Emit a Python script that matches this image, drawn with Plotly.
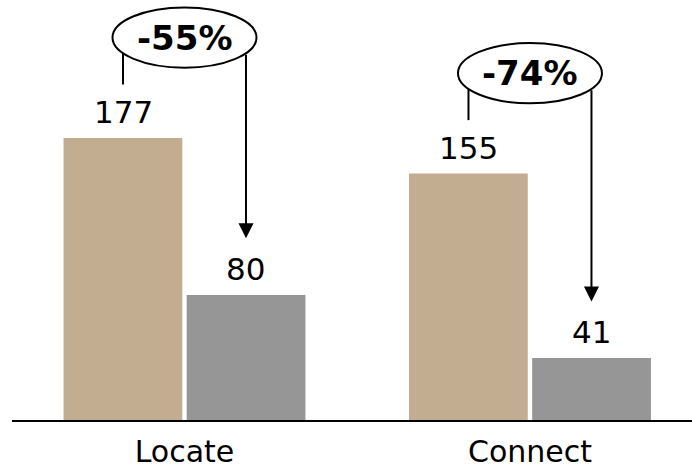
import plotly.graph_objects as go

# Data
categories = ["Locate", "Connect"]
before = [177, 155]
after = [80, 41]

tan = "#C3AD91"
grey = "#969696"
font_family = "DejaVu Sans"

fig = go.Figure()
fig.add_trace(go.Bar(x=categories, y=before, marker=dict(color=tan, line=dict(width=0)),
                     showlegend=False))
fig.add_trace(go.Bar(x=categories, y=after, marker=dict(color=grey, line=dict(width=0)),
                     showlegend=False))

# Change callouts: ellipse badge with bracket arrow from first to second bar
rx, ry = 0.2084, 18.6      # ellipse half-width (category units) / half-height (value units)
dx = 0.178                 # offset of each bar centre from its group centre
badge_lift = 62            # badge centre above the first bar
stem_lift = 33             # start of the left stem above the first bar
tip_lift = 35              # arrow tip above the second bar
dy = ry * (1 - (dx / rx) ** 2) ** 0.5

label_font = dict(size=31, color="black", family=font_family)

shapes = []
annotations = []
for i, (b, a) in enumerate(zip(before, after)):
    # value labels above each bar
    for xv, v in ((i - dx, b), (i + dx, a)):
        annotations.append(dict(x=xv, y=v, xref="x", yref="y", text=str(v),
                                showarrow=False, yanchor="middle", yshift=26,
                                font=label_font))
    cy = b + badge_lift
    pct = round((a - b) / b * 100)
    shapes.append(dict(type="line", xref="x", yref="y",
                       x0=i - dx, x1=i - dx, y0=b + stem_lift, y1=cy - dy,
                       line=dict(color="black", width=2)))
    shapes.append(dict(type="circle", xref="x", yref="y",
                       x0=i - rx, x1=i + rx, y0=cy - ry, y1=cy + ry,
                       line=dict(color="black", width=2), fillcolor="white"))
    annotations.append(dict(x=i + dx, y=a + tip_lift, xref="x", yref="y",
                            ax=i + dx, ay=cy - dy, axref="x", ayref="y",
                            text="", showarrow=True, arrowhead=2,
                            arrowsize=1.5, arrowwidth=2, arrowcolor="black",
                            standoff=0, startstandoff=0))
    annotations.append(dict(x=i, y=cy, xref="x", yref="y", showarrow=False,
                            text=f"<b>{pct}%</b>",
                            font=dict(size=34, color="black", family=font_family)))

fig.update_layout(
    width=692, height=468,
    margin=dict(l=12, r=0, t=0, b=48),
    paper_bgcolor="white", plot_bgcolor="white",
    barmode="group", bargap=0.287, bargroupgap=0.0357,
    font=dict(family=font_family, color="black"),
    shapes=shapes, annotations=annotations,
    xaxis=dict(range=[-0.4993, 1.469], showline=True, linecolor="black",
               linewidth=2, ticks="", showgrid=False, zeroline=False,
               ticklabelstandoff=4,
               tickfont=dict(size=30, color="black", family=font_family)),
    yaxis=dict(range=[2.78, 262.2], visible=False, showgrid=False),
)

fig.write_html("out.html")
